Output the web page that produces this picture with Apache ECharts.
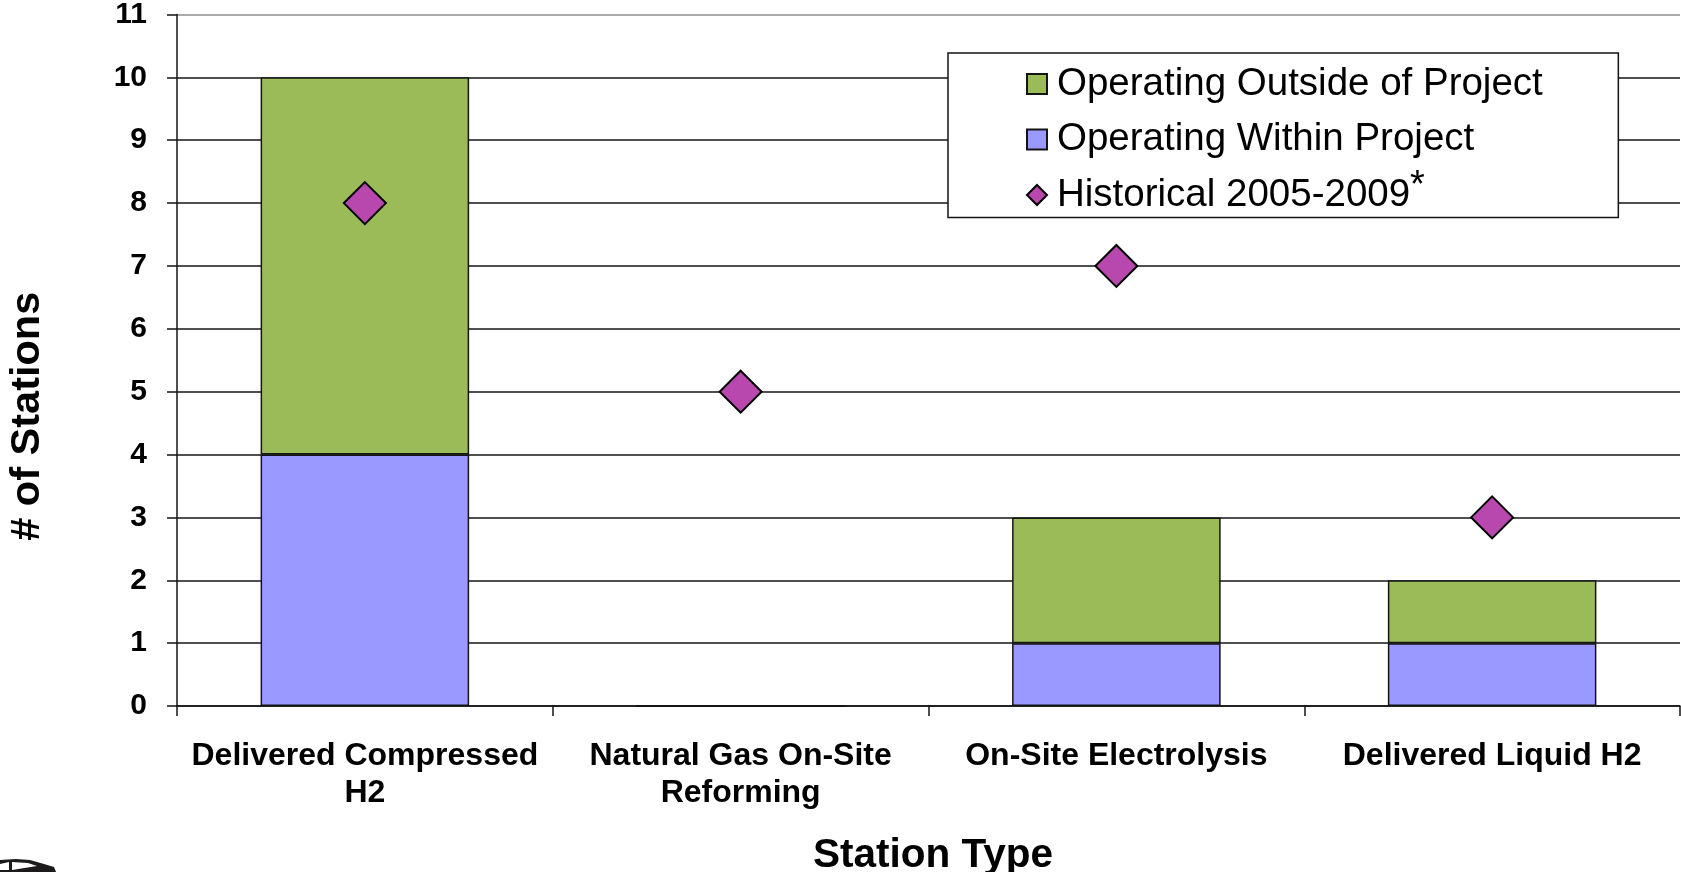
<!DOCTYPE html>
<html><head><meta charset="utf-8">
<style>html,body{margin:0;padding:0;background:#fff}#c{width:1681px;height:872px}</style>
<script src="https://cdn.jsdelivr.net/npm/echarts@6/dist/echarts.min.js"></script>
</head><body><div id="c"></div>
<script>
const categories = ['Delivered Compressed\nH2','Natural Gas On-Site\nReforming','On-Site Electrolysis','Delivered Liquid H2'];
const withinProject = [4,0,1,1];
const outsideProject = [6,0,2,1];
const historical = [8,5,7,3];
const nameOutside = 'Operating Outside of Project';
const nameWithin = 'Operating Within Project';
const nameHistorical = 'Historical 2005-2009';
const font = '"Liberation Sans", Arial, sans-serif';
const ink = '#141414';
const chart = echarts.init(document.getElementById('c'), null, {renderer:'canvas'});
chart.setOption({
  animation:false,
  backgroundColor:'#fff',
  grid:{left:177,right:1,top:14.5,bottom:166,containLabel:false,outerBoundsMode:'none'},
  legend:{
    orient:'vertical',left:948,top:53,
    padding:[4,65,3,78],itemGap:9,itemWidth:20,itemHeight:20,
    backgroundColor:'#fff',borderColor:ink,borderWidth:1.5,align:'left',
    data:[{name:nameOutside,icon:'rect'},{name:nameWithin,icon:'rect'},{name:nameHistorical,icon:'diamond'}],
    selectedMode:false,
    textStyle:{fontFamily:font,fontSize:38.5,color:'#000',padding:[0,0,0,5],
      rich:{h:{fontFamily:font,fontSize:38.5,color:'#000',lineHeight:38},s:{fontFamily:font,fontSize:38,color:'#000',verticalAlign:'top',height:22,lineHeight:38}}},
    formatter:n=>n===nameHistorical?`{h|${n}}{s|*}`:`{h|${n}}{s| }`
  },
  xAxis:{type:'category',data:categories,
    axisLine:{lineStyle:{color:ink,width:1.5}},
    axisTick:{show:true,alignWithLabel:false,length:10,lineStyle:{color:ink,width:1.5}},
    axisLabel:{fontFamily:font,fontWeight:'bold',fontSize:32,color:'#000',lineHeight:37,margin:32,interval:0},
    name:'Station Type',nameLocation:'middle',nameGap:129,nameMoveOverlap:false,
    nameTextStyle:{fontFamily:font,fontWeight:'bold',fontSize:40.5,color:'#000',padding:[0,0,0,9]}
  },
  yAxis:{type:'value',min:0,max:11,interval:1,
    axisLine:{show:true,lineStyle:{color:ink,width:1.5}},
    axisTick:{show:true,length:10,lineStyle:{color:ink,width:1.5}},
    axisLabel:{fontFamily:font,fontWeight:'bold',fontSize:30,color:'#000',margin:30,padding:[8,0,0,0]},
    splitLine:{show:true,lineStyle:{color:[ink,ink,ink,ink,ink,ink,ink,ink,ink,ink,ink,'#8c8c8c'],width:1.5}},
    name:'# of Stations',nameLocation:'middle',nameGap:128,nameMoveOverlap:false,
    nameTextStyle:{fontFamily:font,fontWeight:'bold',fontSize:41.5,color:'#000',padding:[0,112,0,0]}
  },
  series:[
    {name:nameWithin,type:'bar',stack:'s',data:withinProject,barWidth:'55.5%',
      itemStyle:{color:'#9999ff',borderColor:ink,borderWidth:1.5}},
    {name:nameOutside,type:'bar',stack:'s',data:outsideProject,barWidth:'55.5%',
      itemStyle:{color:'#9bbb59',borderColor:ink,borderWidth:1.5}},
    {name:nameHistorical,type:'scatter',data:historical,symbol:'diamond',symbolSize:42,z:5,
      itemStyle:{color:'#b847ae',borderColor:'#000',borderWidth:2,opacity:1}}
  ],
  graphic:[
    {type:'polygon',silent:true,shape:{points:[[0,860],[16,859],[30,860],[44,864],[54,867],[56,872],[0,872]]},style:{fill:'#1c1a1b'}},
    {type:'polygon',silent:true,shape:{points:[[0,864],[9,862],[9,870],[0,870]]},style:{fill:'#fff'}},
    {type:'polygon',silent:true,shape:{points:[[12,862],[28,863],[37,866],[12,870]]},style:{fill:'#fff'}}
  ]
});
</script></body></html>
